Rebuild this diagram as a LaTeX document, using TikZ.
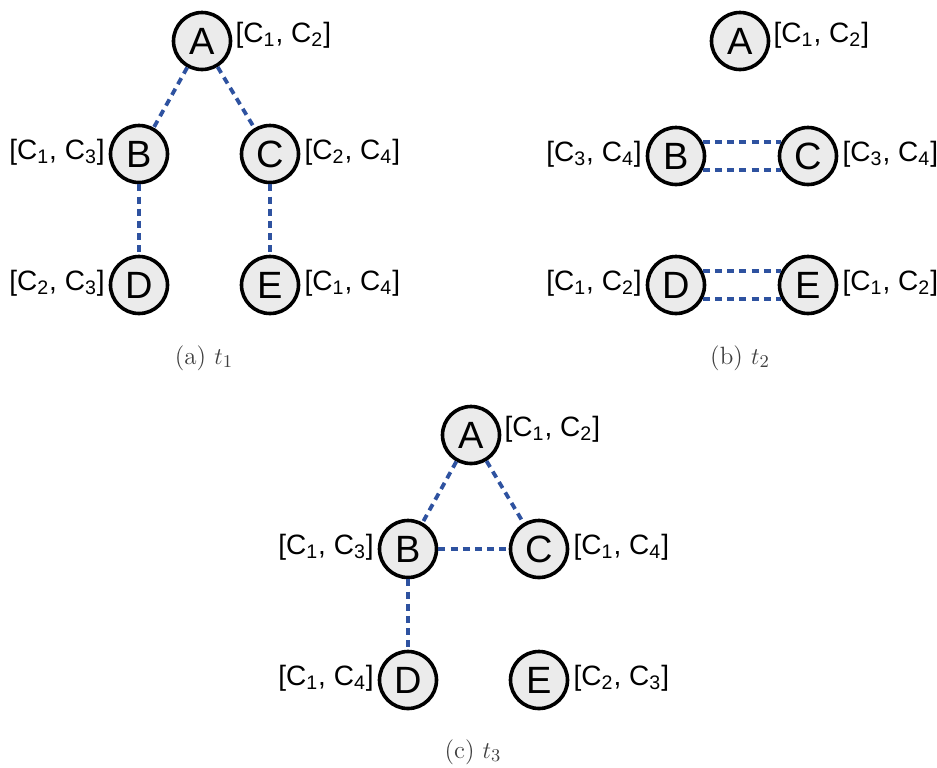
\documentclass[tikz,border=0pt]{standalone}
\usepackage{fontspec}
\newfontfamily\arialfont{Liberation Sans}
\usetikzlibrary{positioning}

\definecolor{edgeblue}{RGB}{46,82,160}
\definecolor{nodegray}{RGB}{235,235,235}
\newcommand{\cc}[1]{C\textsubscript{#1}}

\begin{document}
\begin{tikzpicture}[x=0.5pt, y=-0.5pt,
        vertex/.style={circle, draw=black, line width=1.8pt, fill=nodegray, minimum size=28.5pt, inner sep=0pt, font=\arialfont\fontsize{19}{19}\selectfont},
        lbl/.style={inner sep=0pt, font=\arialfont\fontsize{14}{14}\selectfont},
        edge/.style={draw=edgeblue, line width=1.9pt, dash pattern=on 3.5pt off 2.6pt},
        subcap/.style={text=black!75, font=\fontsize{12.5}{14}\selectfont}
    ]
    \useasboundingbox (0,0) rectangle (937,767);

    % Panel (a)
    \foreach \n/\x/\y in {A/202/41, B/139/154, C/270/154, D/139/285, E/270/285} {
        \node[vertex] (a\n) at (\x,\y) {\n};
    }
    \node[lbl, right=1.5pt of aA, yshift=3pt] (aAl) {[\cc1, \cc2]};
    \node[lbl, left=1.8pt of aB, yshift=1pt] (aBl) {[\cc1, \cc3]};
    \node[lbl, right=2pt of aC, yshift=1pt] (aCl) {[\cc2, \cc4]};
    \node[lbl, left=1.8pt of aD, yshift=1pt] (aDl) {[\cc2, \cc3]};
    \node[lbl, right=2pt of aE, yshift=1pt] (aEl) {[\cc1, \cc4]};
    \draw[edge] (aA) -- (aB);
    \draw[edge] (aA) -- (aC);
    \draw[edge] (aB) -- (aD);
    \draw[edge] (aC) -- (aE);
    \node[subcap] (capa) at (204,358) {(a) $t_1$};

    % Panel (b)
    \foreach \n/\x/\y in {A/740/41, B/676/156, C/808/156, D/676/285, E/808/285} {
        \node[vertex] (b\n) at (\x,\y) {\n};
    }
    \node[lbl, right=1.5pt of bA, yshift=3pt] (bAl) {[\cc1, \cc2]};
    \node[lbl, left=1.8pt of bB, yshift=1pt] (bBl) {[\cc3, \cc4]};
    \node[lbl, right=2pt of bC, yshift=1pt] (bCl) {[\cc3, \cc4]};
    \node[lbl, left=1.8pt of bD, yshift=1pt] (bDl) {[\cc1, \cc2]};
    \node[lbl, right=2pt of bE, yshift=1pt] (bEl) {[\cc1, \cc2]};
    \draw[edge] (bB.28) -- (bC.152);
    \draw[edge] (bB.-28) -- (bC.-152);
    \draw[edge] (bD.28) -- (bE.152);
    \draw[edge] (bD.-28) -- (bE.-152);
    \node[subcap] (capb) at (740,358) {(b) $t_2$};

    % Panel (c)
    \foreach \n/\x/\y in {A/471/435, B/408/549, C/539/549, D/408/680, E/539/680} {
        \node[vertex] (c\n) at (\x,\y) {\n};
    }
    \node[lbl, right=1.5pt of cA, yshift=3pt] (cAl) {[\cc1, \cc2]};
    \node[lbl, left=1.8pt of cB, yshift=1pt] (cBl) {[\cc1, \cc3]};
    \node[lbl, right=2pt of cC, yshift=1pt] (cCl) {[\cc1, \cc4]};
    \node[lbl, left=1.8pt of cD, yshift=1pt] (cDl) {[\cc1, \cc4]};
    \node[lbl, right=2pt of cE, yshift=1pt] (cEl) {[\cc2, \cc3]};
    \draw[edge] (cA) -- (cB);
    \draw[edge] (cA) -- (cC);
    \draw[edge] (cB) -- (cC);
    \draw[edge] (cB) -- (cD);
    \node[subcap] (capc) at (473,752) {(c) $t_3$};
\end{tikzpicture}
\end{document}
